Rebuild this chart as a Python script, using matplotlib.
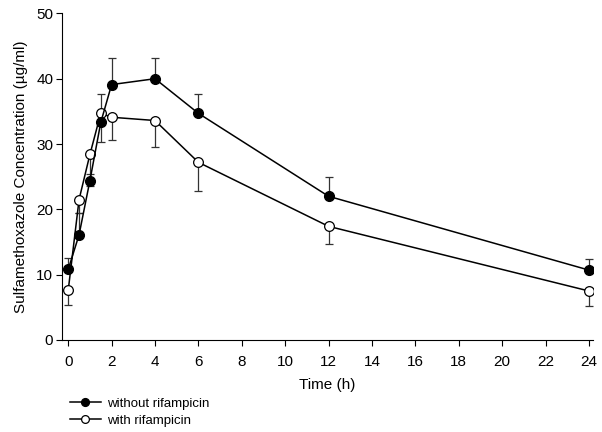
import numpy as np
import matplotlib.pyplot as plt

plt.rcParams['font.family'] = ['Liberation Sans', 'DejaVu Sans']

time_h = [0, 0.5, 1, 1.5, 2, 4, 6, 12, 24]
without_rif = [10.8, 16.1, 24.4, 33.3, 39.1, 40.0, 34.7, 22.0, 10.7]
without_err = [1.7, 3.3, 1.0, 4.3, 4.0, 3.1, 2.9, 2.9, 1.7]
with_rif = [7.6, 21.5, 28.4, 34.7, 34.1, 33.6, 27.2, 17.4, 7.5]
with_err = [2.3, 2.0, 4.9, 4.4, 3.5, 4.0, 4.4, 2.7, 2.3]

fig = plt.figure(figsize=(6.02, 4.32), dpi=100)
ax = fig.add_axes([0.1025, 0.213, 0.883, 0.756])

# error bars: filled series upward, open series downward
ax.errorbar(time_h, without_rif, yerr=[np.zeros(len(without_err)), without_err],
            fmt='none', ecolor='#333333', elinewidth=0.9, capsize=3, capthick=0.9, zorder=2)
ax.errorbar(time_h, with_rif, yerr=[with_err, np.zeros(len(with_err))],
            fmt='none', ecolor='#333333', elinewidth=0.9, capsize=3, capthick=0.9, zorder=2)

l1, = ax.plot(time_h, without_rif, color='black', lw=1.1, marker='o', ms=7,
              mfc='black', mec='black', zorder=4, label='without rifampicin')
l2, = ax.plot(time_h, with_rif, color='black', lw=1.1, marker='o', ms=7,
              mfc='white', mec='black', mew=0.9, zorder=3, label='with rifampicin')

ax.set_xlim(-0.3, 24.2)
ax.set_ylim(0, 50)
ax.set_xticks(range(0, 25, 2))
ax.set_yticks(range(0, 51, 10))
ax.spines['top'].set_visible(False)
ax.spines['right'].set_visible(False)
ax.tick_params(direction='out', length=4, labelsize=11, width=0.8)
ax.tick_params(axis='x', pad=7)
ax.tick_params(axis='y', pad=2)
ax.set_xlabel('Time (h)', fontsize=11, labelpad=6)
ax.set_ylabel('Sulfamethoxazole Concentration (µg/ml)', fontsize=11, labelpad=6)

fig.legend(handles=[l1, l2], loc='lower left', bbox_to_anchor=(0.108, 0.0),
           frameon=False, fontsize=9.5, handlelength=2.3, handletextpad=0.5,
           labelspacing=0.35, borderaxespad=0.0, markerscale=0.8)

fig.savefig('out.png', dpi=100)
